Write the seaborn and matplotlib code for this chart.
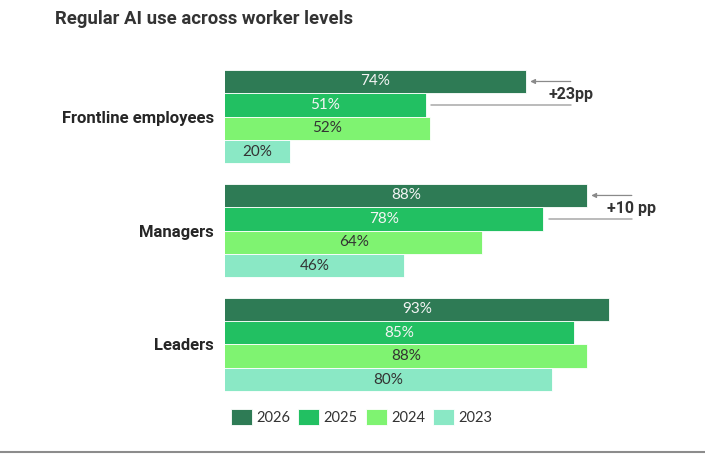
import matplotlib
matplotlib.use("Agg")
import matplotlib.pyplot as plt
import seaborn as sns
import pandas as pd
from matplotlib.lines import Line2D

# ---- data ----
levels = ["Frontline employees", "Managers", "Leaders"]
years = ["2026", "2025", "2024", "2023"]
v2026 = [74, 88, 93]
v2025 = [51, 78, 85]
v2024 = [52, 64, 88]
v2023 = [20, 46, 80]
year_colors = ["#2E7B55", "#22C062", "#7FF371", "#8AE8C5"]
label_colors = ["#F4F4F4", "#F4F4F4", "#333333", "#333333"]
ann_levels = [0, 1]
ann_text = ["+23pp", "+10 pp"]
title = "Regular AI use across worker levels"

series = {"2026": v2026, "2025": v2025, "2024": v2024, "2023": v2023}
rows = []
for y in years:
    for lvl, val in zip(levels, series[y]):
        rows.append({"level": lvl, "year": y, "value": val})
df = pd.DataFrame(rows)

sns.set_theme(style="white")
plt.rcParams["font.family"] = ["Lato", "DejaVu Sans"]
BOLD = ["Roboto", "DejaVu Sans"]

fig = plt.figure(figsize=(7.05, 4.58), dpi=100)
ax = fig.add_axes([0.3191, 0.1234, 0.6556, 0.7466])

sns.barplot(data=df, y="level", x="value", hue="year", order=levels,
            hue_order=years, palette=dict(zip(years, year_colors)),
            orient="h", width=0.82, edgecolor="white", linewidth=0.6,
            saturation=1, ax=ax)

XMIN, XMAX = 5, 111
ax.set_xlim(XMIN, XMAX)
ax.set_ylim(2.5, -0.5)
ax.set_xlabel("")
ax.set_ylabel("")
ax.set_xticks([])
for s in ax.spines.values():
    s.set_visible(False)
ax.tick_params(axis="y", length=0, pad=8)
for t in ax.get_yticklabels():
    t.set_fontsize(12)
    t.set_fontweight("bold")
    t.set_family(BOLD)
    t.set_color("#262626")

# value labels centred on the visible part of each bar
for ci, cont in enumerate(ax.containers):
    for bar in cont:
        w = bar.get_width()
        yc = bar.get_y() + bar.get_height() / 2
        ax.text((XMIN + w) / 2, yc, f"{w:.0f}%", ha="center", va="center",
                fontsize=11, family=["Lato", "DejaVu Sans"],
                color=label_colors[ci])

# change annotations
for li, txt in zip(ann_levels, ann_text):
    top = ax.containers[0][li]
    prev = ax.containers[1][li]
    yt = top.get_y() + top.get_height() / 2
    yp = prev.get_y() + prev.get_height() / 2
    xend = top.get_width() + 10.3
    ax.annotate("", xy=(top.get_width() + 1, yt), xytext=(xend, yt),
                arrowprops=dict(arrowstyle="-|>", color="#8A8A8A", lw=0.9,
                                mutation_scale=7, shrinkA=0, shrinkB=0))
    ax.plot([prev.get_width() + 1.3, xend], [yp, yp], color="#A8A8A8", lw=1.1)
    ax.text(xend, (yt + yp) / 2 + 0.01, txt, ha="center", va="center",
            fontsize=11.5, fontweight="bold", family=BOLD, color="#333333")

# legend
handles, labels = ax.get_legend_handles_labels()
if ax.get_legend() is not None:
    ax.get_legend().remove()
fig.legend(handles, labels, loc="center", bbox_to_anchor=(0.513, 0.0895),
           ncol=4, frameon=False, handlelength=1.45,
           handleheight=1.35, handletextpad=0.3, columnspacing=0.55,
           labelcolor="#333333", prop={"family": ["Lato", "DejaVu Sans"], "size": 10.5})

fig.text(55 / 705, 1 - 19 / 458, title, ha="left", va="center",
         fontsize=13.3, fontweight="bold", family=BOLD, color="#333333")

fig.add_artist(Line2D([0, 1], [1 - 452 / 458] * 2, color="#8C8C8C", lw=1.5,
                      transform=fig.transFigure))

fig.savefig("out.png", dpi=100)
